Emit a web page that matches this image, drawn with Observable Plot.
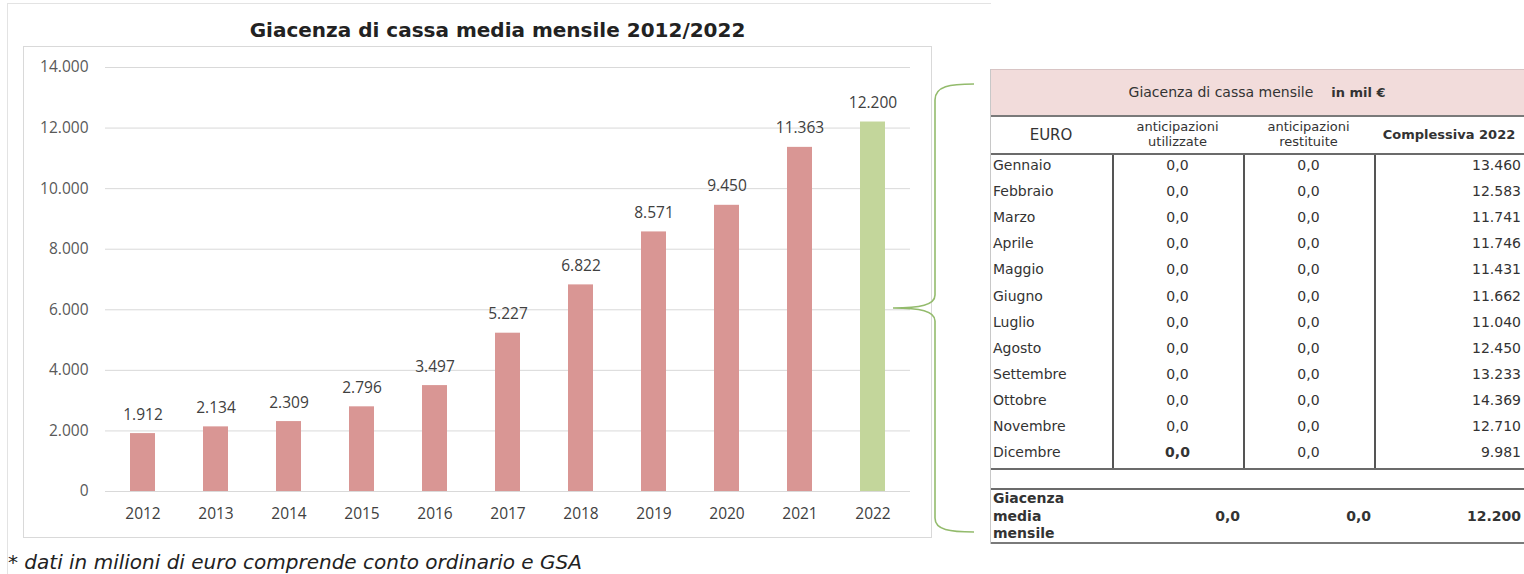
<!DOCTYPE html>
<html>
<head>
<meta charset="utf-8">
<script src="https://cdn.jsdelivr.net/npm/d3@7"></script>
<script src="https://cdn.jsdelivr.net/npm/@observablehq/plot@0.6"></script>
<style>
  html, body { margin: 0; padding: 0; background: #fff; }
  #page { position: relative; width: 1524px; height: 574px; overflow: hidden; background: #fff; }
  .abs { position: absolute; }
  #outer { left: 7px; top: 3px; width: 983px; height: 600px; border-top: 1px solid #e3e3e3; border-left: 1px solid #e3e3e3; }
  #inner { left: 23px; top: 46px; width: 907px; height: 490px; border: 1px solid #d9d9d9; }
  #title { left: 0; top: 18px; width: 995px; text-align: center; font: bold 20px "DejaVu Sans", sans-serif; color: #222; }
  #foot { left: 8px; top: 550px; font: oblique 20px "DejaVu Sans", sans-serif; color: #222; white-space: nowrap; }
  #chart { left: 0; top: 0; }
  #tbl { left: 990px; top: 69px; width: 534px; font-family: "DejaVu Sans", sans-serif; color: #333; }
  .row { position: absolute; left: 0; width: 534px; }
  .cell { position: absolute; top: 0; box-sizing: border-box; white-space: nowrap; }
</style>
</head>
<body>
<div id="page">
  <div id="outer" class="abs"></div>
  <div id="inner" class="abs"></div>
  <div id="title" class="abs">Giacenza di cassa media mensile 2012/2022</div>
  <div id="chart" class="abs"></div>
  <svg id="brace" class="abs" style="left:0;top:0" width="1524" height="574"></svg>
  <div id="tbl" class="abs"></div>
  <div id="foot" class="abs">* dati in milioni di euro comprende conto ordinario e GSA</div>
</div>
<script>
// ---- data ----
const years = ["2012","2013","2014","2015","2016","2017","2018","2019","2020","2021","2022"];
const values = [1912, 2134, 2309, 2796, 3497, 5227, 6822, 8571, 9450, 11363, 12200];
const yTicks = [0, 2000, 4000, 6000, 8000, 10000, 12000, 14000];

const months = ["Gennaio","Febbraio","Marzo","Aprile","Maggio","Giugno","Luglio","Agosto","Settembre","Ottobre","Novembre","Dicembre"];
const utilizzate = [0,0,0,0,0,0,0,0,0,0,0,0];
const restituite = [0,0,0,0,0,0,0,0,0,0,0,0];
const complessiva = [13460, 12583, 11741, 11746, 11431, 11662, 11040, 12450, 13233, 14369, 12710, 9981];
const mediaUtil = 0, mediaRest = 0, mediaTot = 12200;

// ---- formats (Italian) ----
const loc = d3.formatLocale({decimal: ",", thousands: ".", grouping: [3], currency: ["€", ""]});
const fInt = loc.format(",d");
const f1 = loc.format(".1f");

const data = years.map((y, i) => ({year: y, value: values[i]}));
const pink = "#d99694", green = "#c3d69b";

const chart = Plot.plot({
  width: 940,
  height: 540,
  marginLeft: 105,
  marginRight: 30,
  marginTop: 67,
  marginBottom: 49,
  style: {fontFamily: "'Open Sans', sans-serif", fontSize: "15px", background: "transparent", overflow: "visible"},
  x: {domain: years, paddingInner: 0.66, paddingOuter: 0.33, label: null},
  y: {domain: [0, 14000], label: null},
  marks: [
    Plot.ruleY(yTicks, {stroke: "#d9d9d9", strokeWidth: 1}),
    Plot.barY(data, {x: "year", y: "value", fill: d => d.year === "2022" ? green : pink}),
    Plot.text(data, {x: "year", y: "value", text: d => fInt(d.value), dy: -19, fill: "#404040", fontSize: 15.5}),
    Plot.axisY({ticks: yTicks, tickFormat: fInt, tickSize: 0, tickPadding: 17, fill: "#595959", fontSize: 15.5}),
    Plot.axisX({tickSize: 0, tickPadding: 16, fill: "#404040", fontSize: 15.5})
  ]
});
document.getElementById("chart").appendChild(chart);

// ---- brace (decoration) ----
const brace = d3.select("#brace");
brace.append("path")
  .attr("d", "M974,84 C950,84 935,86 935,100 L935,295 C935,305 920,308 893,308 C920,308 935,311 935,321 L935,518 C935,530 950,532 974,532")
  .attr("fill", "none").attr("stroke", "#93bb6c").attr("stroke-width", 1.6);

// ---- table ----
const tbl = d3.select("#tbl");
const cols = [0, 122, 253, 384, 534]; // column boundaries relative to table left
function addRow(top, height, cells, opts = {}) {
  const r = tbl.append("div").attr("class", "row").style("top", top + "px").style("height", height + "px");
  if (opts.bg) r.style("background", opts.bg);
  cells.forEach((c, i) => {
    const left = cols[i], w = cols[i + 1] - cols[i];
    r.append("div").attr("class", "cell")
      .style("left", left + "px").style("width", w + "px").style("height", height + "px")
      .style("line-height", (c.lh || height) + "px")
      .style("text-align", c.align || "center")
      .style("padding", c.pad || "0 3px")
      .style("font-size", (c.size || 14) + "px")
      .style("font-weight", c.bold ? "bold" : "normal")
      .style("padding-top", c.pt != null ? c.pt + "px" : null)
      .html(c.t);
  });
  return r;
}
function hline(top, color, w) {
  tbl.append("div").attr("class", "row").style("top", top + "px").style("height", (w || 2) + "px").style("background", color || "#6b6b6b");
}
function vline(x, top, bottom) {
  tbl.append("div").attr("class", "row").style("left", x + "px").style("width", "1.5px")
    .style("top", top + "px").style("height", (bottom - top) + "px").style("background", "#555");
}

// pink header
tbl.append("div").attr("class", "row").style("top", "0px").style("height", "46px")
  .style("background", "#f2dcdb").style("border-top", "1px solid #d8c4c4")
  .style("font-size", "14px").style("line-height", "44px").style("text-align", "center")
  .html('Giacenza di cassa mensile &nbsp;&nbsp;&nbsp;<b style="font-size:13px">in mil €</b>');
hline(46, "#7a7a7a", 2);

// column headers
addRow(48, 36, [
  {t: "EURO", size: 15},
  {t: "anticipazioni<br>utilizzate", size: 13, lh: 15, pt: 2},
  {t: "anticipazioni<br>restituite", size: 13, lh: 15, pt: 2},
  {t: "Complessiva 2022", size: 13, bold: true}
]);
hline(84, "#6b6b6b", 2);

// month rows
const rowTop = 86, rowH = 26.1;
months.forEach((m, i) => {
  addRow(rowTop + i * rowH - 3, rowH, [
    {t: m, align: "left", pad: "0 3px"},
    {t: f1(utilizzate[i]), bold: m === "Dicembre"},
    {t: f1(restituite[i])},
    {t: fInt(complessiva[i]), align: "right", pad: "0 3px"}
  ]);
});
const monthsEnd = rowTop + months.length * rowH;
vline(cols[1], 86, monthsEnd);
vline(cols[2], 86, monthsEnd);
vline(cols[3], 86, monthsEnd);
hline(monthsEnd, "#6b6b6b", 2);
hline(monthsEnd + 20, "#6b6b6b", 2);

// summary row
const sumTop = monthsEnd + 22;
addRow(sumTop, 52, [
  {t: "Giacenza<br>media<br>mensile", align: "left", bold: true, lh: 17.5, pad: "0 3px", pt: 0},
  {t: f1(mediaUtil), bold: true, align: "right", pad: "0 3px"},
  {t: f1(mediaRest), bold: true, align: "right", pad: "0 3px"},
  {t: fInt(mediaTot), bold: true, align: "right", pad: "0 3px"}
]);
hline(sumTop + 52, "#7a7a7a", 2);
// left border of table
tbl.append("div").attr("class", "row").style("left", "0px").style("width", "1px").style("top", "0px")
  .style("height", (sumTop + 54) + "px").style("background", "#c8c8c8");
</script>
</body>
</html>
